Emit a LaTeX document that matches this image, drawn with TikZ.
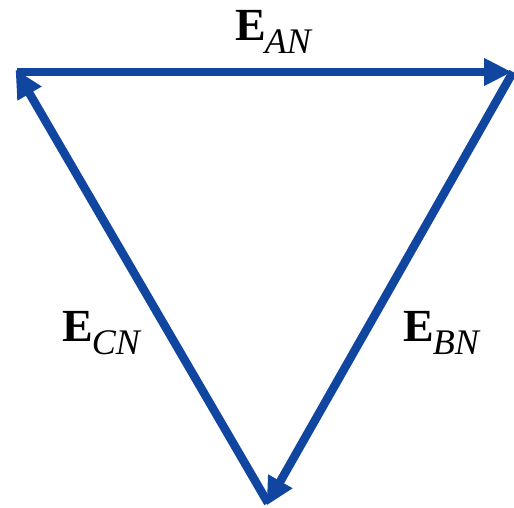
\documentclass[tikz,border=0pt]{standalone}
\usepackage{fontspec}
\setmainfont{Liberation Serif}
\usetikzlibrary{arrows.meta}
\definecolor{vecblue}{RGB}{16,70,160}
\tikzset{
  vec/.style={draw=vecblue, line width=8.5pt, -{Triangle[length=28pt,width=26pt]}, shorten >=-3pt},
  lbl/.style={inner sep=0pt, font=\fontsize{46}{50}\selectfont}
}
\newcommand{\vlab}[1]{\textbf{E}\kern-1pt\raisebox{-13pt}{\fontsize{36}{40}\selectfont\itshape #1}}
\begin{document}
\begin{tikzpicture}[x=1pt,y=-1pt]
\useasboundingbox (0,0) rectangle (514,508);
\coordinate (A) at (17,72);
\coordinate (B) at (509,72);
\coordinate (C) at (268,503);
\draw[vec] (A) -- (B);
\draw[vec] (513,72) -- (C);
\draw[vec] (C) -- (A);
\node[lbl] (lan) at (273,32) {\vlab{AN}};
\node[lbl] (lcn) at (101,333) {\vlab{CN}};
\node[lbl] (lbn) at (441,333) {\vlab{BN}};
\end{tikzpicture}
\end{document}
